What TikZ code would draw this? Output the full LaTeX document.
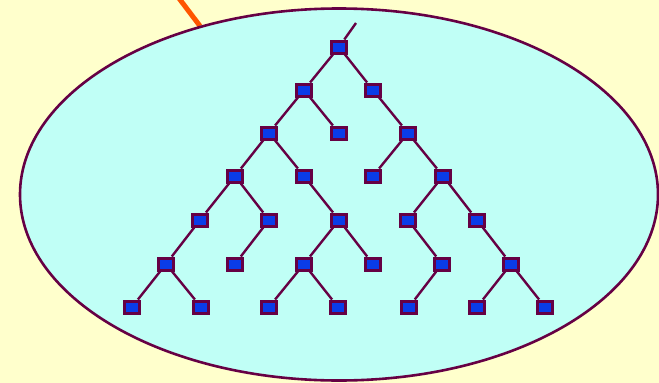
\documentclass[tikz,border=0pt]{standalone}
\usetikzlibrary{calc}
\definecolor{bgy}{HTML}{FFFFCC}
\definecolor{cyanfill}{HTML}{C0FFF6}
\definecolor{plum}{HTML}{660044}
\definecolor{nodeblue}{HTML}{0A3CE8}
\definecolor{orangeline}{HTML}{FF5500}
\tikzset{
  tn/.style={draw=plum, fill=nodeblue, rectangle, line width=3pt, minimum width=15pt, minimum height=12pt, inner sep=0pt},
  edge/.style={draw=plum, line width=2.4pt},
}
\begin{document}
\begin{tikzpicture}[x=1pt,y=-1pt]
\fill[bgy] (0,0) rectangle (659,383);
\useasboundingbox (0,0) rectangle (659,383);
\draw[orangeline, line width=5pt] (178,-3) -- (200,26);
\draw[plum, fill=cyanfill, line width=2.6pt] (339,194.5) ellipse [x radius=319, y radius=186];
% nodes
\node[tn] (a) at (339,47) {};
\node[tn] (b1) at (304,90) {};
\node[tn] (b2) at (373,90) {};
\node[tn] (c1) at (269,133) {};
\node[tn] (c2) at (339,133) {};
\node[tn] (c3) at (408,133) {};
\node[tn] (d1) at (235,176) {};
\node[tn] (d2) at (304,176) {};
\node[tn] (d3) at (373,176) {};
\node[tn] (d4) at (443,176) {};
\node[tn] (e1) at (200,220) {};
\node[tn] (e2) at (269,220) {};
\node[tn] (e3) at (339,220) {};
\node[tn] (e4) at (408,220) {};
\node[tn] (e5) at (477,220) {};
\node[tn] (f1) at (166,264) {};
\node[tn] (f2) at (235,264) {};
\node[tn] (f3) at (304,264) {};
\node[tn] (f4) at (373,264) {};
\node[tn] (f5) at (442,264) {};
\node[tn] (f6) at (511,264) {};
\node[tn] (g1) at (132,307) {};
\node[tn] (g2) at (201,307) {};
\node[tn] (g3) at (269,307) {};
\node[tn] (g4) at (338,307) {};
\node[tn] (g5) at (409,307) {};
\node[tn] (g6) at (477,307) {};
\node[tn] (g7) at (545,307) {};
\coordinate (stub) at (356,23);
% edges
\draw[edge] (stub) -- (a);
\draw[edge] (a) -- (b1);
\draw[edge] (a) -- (b2);
\draw[edge] (b1) -- (c1);
\draw[edge] (b1) -- (c2);
\draw[edge] (b2) -- (c3);
\draw[edge] (c1) -- (d1);
\draw[edge] (c1) -- (d2);
\draw[edge] (c3) -- (d3);
\draw[edge] (c3) -- (d4);
\draw[edge] (d1) -- (e1);
\draw[edge] (d1) -- (e2);
\draw[edge] (d2) -- (e3);
\draw[edge] (d4) -- (e4);
\draw[edge] (d4) -- (e5);
\draw[edge] (e1) -- (f1);
\draw[edge] (e2) -- (f2);
\draw[edge] (e3) -- (f3);
\draw[edge] (e3) -- (f4);
\draw[edge] (e4) -- (f5);
\draw[edge] (e5) -- (f6);
\draw[edge] (f1) -- (g1);
\draw[edge] (f1) -- (g2);
\draw[edge] (f3) -- (g3);
\draw[edge] (f3) -- (g4);
\draw[edge] (f5) -- (g5);
\draw[edge] (f6) -- (g6);
\draw[edge] (f6) -- (g7);
\end{tikzpicture}
\end{document}
